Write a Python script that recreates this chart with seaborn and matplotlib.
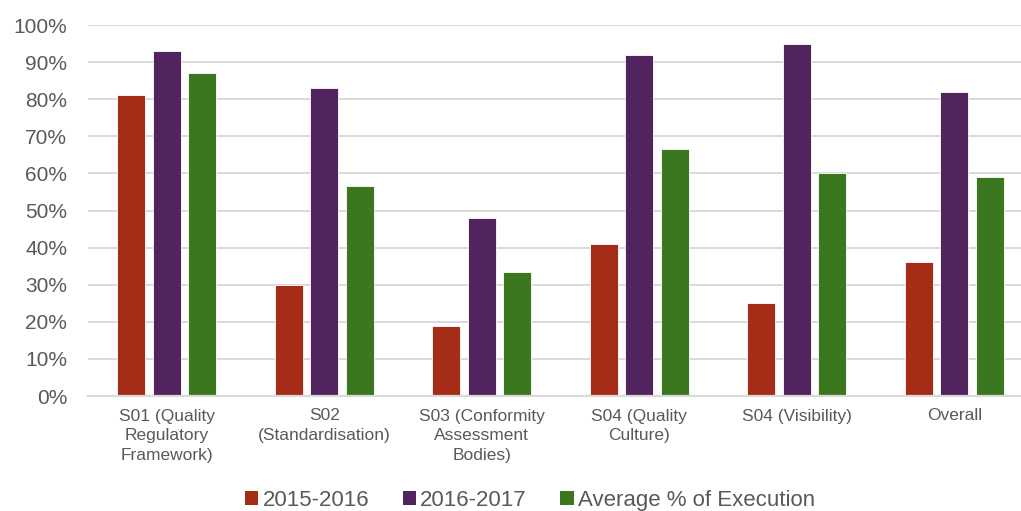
import matplotlib
matplotlib.use("Agg")
import matplotlib.pyplot as plt
from matplotlib.ticker import FuncFormatter, MultipleLocator
import seaborn as sns
import pandas as pd

# Execution rates per strategic area (percent)
categories = [
    "S01 (Quality\nRegulatory\nFramework)",
    "S02\n(Standardisation)",
    "S03 (Conformity\nAssessment\nBodies)",
    "S04 (Quality\nCulture)",
    "S04 (Visibility)",
    "Overall",
]
series_names = ["2015-2016", "2016-2017", "Average % of Execution"]
values_2015_2016 = [81, 30, 19, 41, 25, 36]
values_2016_2017 = [93, 83, 48, 92, 95, 82]
values_average = [87, 56.5, 33.5, 66.5, 60, 59]
colors = ["#A52D17", "#51235F", "#3B771F"]

rows = []
for name, vals in zip(series_names, [values_2015_2016, values_2016_2017, values_average]):
    for cat, v in zip(categories, vals):
        rows.append({"Category": cat, "Series": name, "Value": v})
df = pd.DataFrame(rows)

sns.set_theme(style="white")
plt.rcParams["font.family"] = ["Liberation Sans", "DejaVu Sans"]

W, H = 1021, 511
fig = plt.figure(figsize=(W / 100, H / 100), dpi=100)
ax = fig.add_axes([88 / W, 1 - 396 / H, (1033 - 88) / W, (396 - 25) / H])

sns.barplot(
    data=df, x="Category", y="Value", hue="Series",
    order=categories, hue_order=series_names, palette=colors,
    width=0.675, gap=0.2, saturation=1, ax=ax,
    edgecolor="white", linewidth=0.6,
)

ax.set_xlim(-0.5, len(categories) - 0.5)
ax.set_ylim(0, 100)
ax.yaxis.set_major_locator(MultipleLocator(10))
ax.yaxis.set_major_formatter(FuncFormatter(lambda v, _: f"{v:.0f}%"))
ax.set_xlabel("")
ax.set_ylabel("")

ax.grid(axis="y", color="#d9d9d9", linewidth=1.4)
ax.set_axisbelow(True)
for side in ["left", "right", "top"]:
    ax.spines[side].set_visible(False)
ax.spines["bottom"].set_color("#d9d9d9")
ax.spines["bottom"].set_linewidth(1.6)

ax.tick_params(axis="y", length=0, pad=15, labelsize=15, labelcolor="#595959")
ax.tick_params(axis="x", length=0, pad=9, labelsize=12.5, labelcolor="#595959")
for lbl in ax.get_xticklabels():
    lbl.set_linespacing(1.38)
    lbl.set_verticalalignment("top")

ax.legend_.remove()
handles, labels = ax.get_legend_handles_labels()
leg = fig.legend(
    handles, labels, loc="center", bbox_to_anchor=(530 / W, 1 - 500.5 / H),
    ncol=3, frameon=False, fontsize=16, handlelength=0.6, handleheight=0.6,
    handletextpad=0.2, columnspacing=1.5, borderpad=0,
)
for t in leg.get_texts():
    t.set_color("#595959")
for h in leg.legend_handles:
    h.set_edgecolor("none")

fig.savefig("out.png", dpi=100)
